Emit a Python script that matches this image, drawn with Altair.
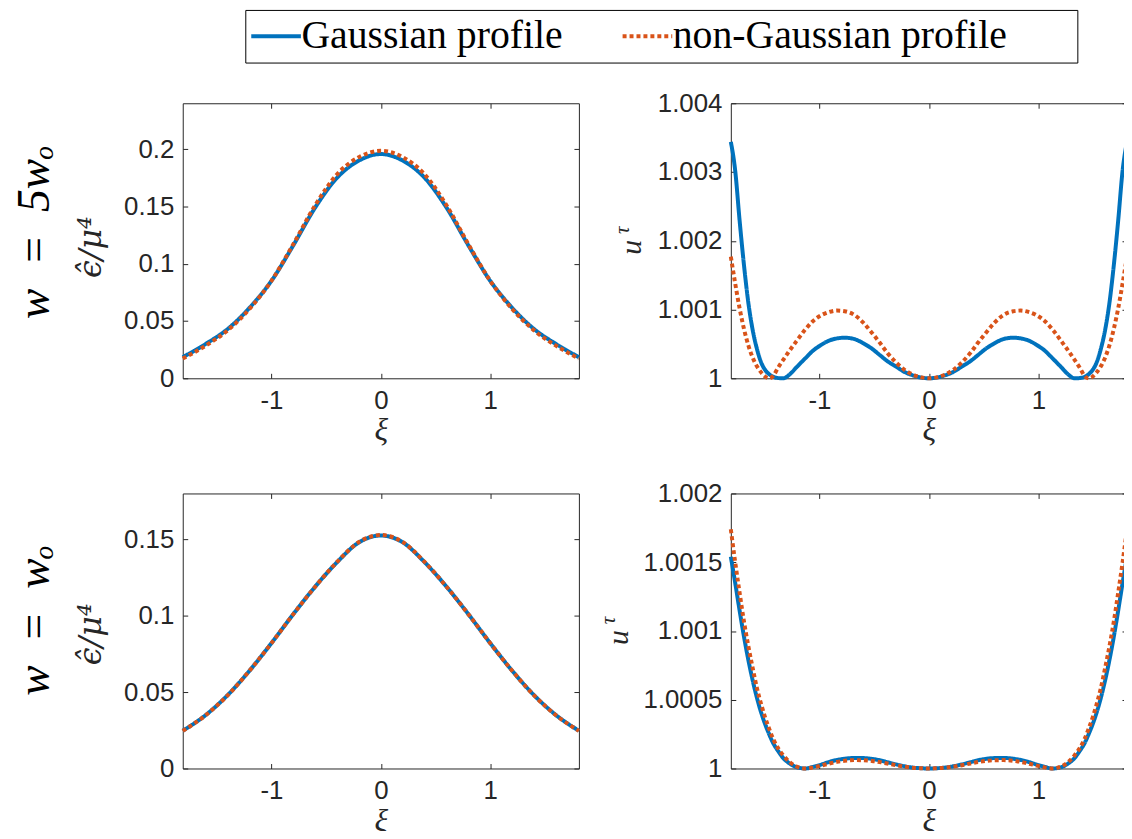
import altair as alt
import pandas as pd

SERIES = ["Gaussian profile", "non-Gaussian profile"]
BLUE, ORANGE = "#0072BD", "#D95319"
INK = "#262626"

# ---------------- data ----------------
xi_left = [-1.81, -1.6, -1.4, -1.2, -1.0, -0.8, -0.6, -0.4, -0.2, 0.0,
           0.2, 0.4, 0.6, 0.8, 1.0, 1.2, 1.4, 1.6, 1.81]

# energy density, w = 5 w_o
tl_gauss = [0.0184, 0.030, 0.043, 0.0615, 0.085, 0.116, 0.149, 0.175, 0.190, 0.1957,
            0.190, 0.175, 0.149, 0.116, 0.085, 0.0615, 0.043, 0.030, 0.0184]
tl_nongauss = [0.0172, 0.0285, 0.0418, 0.0605, 0.085, 0.117, 0.151, 0.178, 0.193, 0.1985,
               0.193, 0.178, 0.151, 0.117, 0.085, 0.0605, 0.0418, 0.0285, 0.0172]
# energy density, w = w_o
bl_gauss = [0.0247, 0.035, 0.048, 0.064, 0.082, 0.101, 0.119, 0.135, 0.148, 0.1525,
            0.148, 0.135, 0.119, 0.101, 0.082, 0.064, 0.048, 0.035, 0.0247]
bl_nongauss = [0.0246, 0.0349, 0.0479, 0.064, 0.082, 0.101, 0.119, 0.1352, 0.1482, 0.1528,
               0.1482, 0.1352, 0.119, 0.101, 0.082, 0.064, 0.0479, 0.0349, 0.0246]

xi_right = [-1.81, -1.77, -1.73, -1.69, -1.65, -1.61, -1.57, -1.53, -1.50, -1.46, -1.42,
            -1.38, -1.33, -1.27, -1.21, -1.13, -1.06, -0.98, -0.91, -0.84, -0.77, -0.68,
            -0.60, -0.52, -0.45, -0.38, -0.30, -0.22, -0.15, -0.07, 0.0,
            0.07, 0.15, 0.22, 0.30, 0.38, 0.45, 0.52, 0.60, 0.68, 0.77, 0.84, 0.91, 0.98,
            1.06, 1.13, 1.21, 1.27, 1.33, 1.38, 1.42, 1.46, 1.50, 1.53, 1.57, 1.61, 1.65,
            1.69, 1.73, 1.77, 1.81]

# u^tau, w = 5 w_o
tr_gauss = [1.00344, 1.00302, 1.00230, 1.00165, 1.00110, 1.00070, 1.00042, 1.00022, 1.00013,
            1.00006, 1.00002, 1.000004, 1.0, 1.00006, 1.00016, 1.00029, 1.00040, 1.00049,
            1.00055, 1.00058, 1.00059, 1.00057, 1.00051, 1.00043, 1.00034, 1.00025, 1.00017,
            1.00009, 1.000045, 1.00001, 1.0,
            1.00001, 1.000045, 1.00009, 1.00017, 1.00025, 1.00034, 1.00043, 1.00051, 1.00057,
            1.00059, 1.00058, 1.00055, 1.00049, 1.00040, 1.00029, 1.00016, 1.00006, 1.0,
            1.000004, 1.00002, 1.00006, 1.00013, 1.00022, 1.00042, 1.00070, 1.00110, 1.00165,
            1.00230, 1.00302, 1.00344]
tr_nongauss = [1.00177, 1.00138, 1.00102, 1.00072, 1.00048, 1.00030, 1.00017, 1.00008, 1.00003,
               1.0, 1.00004, 1.00015, 1.00027, 1.00041, 1.00054, 1.00071, 1.00083, 1.00092,
               1.000965, 1.000985, 1.000975, 1.00092, 1.00081, 1.00066, 1.00052, 1.00037,
               1.00023, 1.00012, 1.000055, 1.000013, 1.0,
               1.000013, 1.000055, 1.00012, 1.00023, 1.00037, 1.00052, 1.00066, 1.00081,
               1.00092, 1.000975, 1.000985, 1.000965, 1.00092, 1.00083, 1.00071, 1.00054,
               1.00041, 1.00027, 1.00015, 1.00004, 1.0, 1.00003, 1.00008, 1.00017, 1.00030,
               1.00048, 1.00072, 1.00102, 1.00138, 1.00177]
# u^tau, w = w_o
br_gauss = [1.00154, 1.00135, 1.00115, 1.00096, 1.00079, 1.00064, 1.00051, 1.00040, 1.00033,
            1.00025, 1.00018, 1.00013, 1.000075, 1.000035, 1.00001, 1.0, 1.000012, 1.00003,
            1.000048, 1.000062, 1.000071, 1.000077, 1.000076, 1.00007, 1.00006, 1.000046,
            1.00003, 1.000016, 1.000007, 1.000002, 1.0,
            1.000002, 1.000007, 1.000016, 1.00003, 1.000046, 1.00006, 1.00007, 1.000076,
            1.000077, 1.000071, 1.000062, 1.000048, 1.00003, 1.000012, 1.0, 1.00001,
            1.000035, 1.000075, 1.00013, 1.00018, 1.00025, 1.00033, 1.00040, 1.00051,
            1.00064, 1.00079, 1.00096, 1.00115, 1.00135, 1.00154]
br_nongauss = [1.00174, 1.00150, 1.00128, 1.00107, 1.00089, 1.00073, 1.00058, 1.00046, 1.00038,
               1.00029, 1.00021, 1.00015, 1.000095, 1.000045, 1.000015, 1.0, 1.000008,
               1.000022, 1.000036, 1.000048, 1.000056, 1.000061, 1.00006, 1.000055, 1.000047,
               1.000036, 1.000024, 1.000013, 1.000006, 1.000002, 1.0,
               1.000002, 1.000006, 1.000013, 1.000024, 1.000036, 1.000047, 1.000055, 1.00006,
               1.000061, 1.000056, 1.000048, 1.000036, 1.000022, 1.000008, 1.0, 1.000015,
               1.000045, 1.000095, 1.00015, 1.00021, 1.00029, 1.00038, 1.00046, 1.00058,
               1.00073, 1.00089, 1.00107, 1.00128, 1.00150, 1.00174]

x_ticks = [-1, 0, 1]
tl_yticks = [0, 0.05, 0.1, 0.15, 0.2]
bl_yticks = [0, 0.05, 0.1, 0.15]
tr_yticks = [1, 1.001, 1.002, 1.003, 1.004]
br_yticks = [1, 1.0005, 1.001, 1.0015, 1.002]

EPS = "ϵ̂/μ⁴"
ROW1 = "w\u2002=\u20025wₒ"
ROW2 = "w\u2002=\u2002wₒ"


def long_df(xi, g, ng):
    return pd.DataFrame({
        "xi": list(xi) + list(xi),
        "value": list(g) + list(ng),
        "series": [SERIES[0]] * len(xi) + [SERIES[1]] * len(xi),
    })


TICK_IN = {"expr": "-5"}
XDOM = [-1.81, 1.81]

legend = alt.Legend(
    title="................................", titleOrient="right", titleLimit=60,
    titleOpacity=0, titleFontSize=10, titlePadding=6,
    orient="none", legendX=63, legendY=-94, direction="horizontal", columns=2,
    symbolType="M-2.5,0L2.5,0", symbolSize=400, symbolStrokeWidth=4, symbolOffset=4.5,
    labelFont="Liberation Serif", labelFontSize=40, labelColor="black", labelLimit=1000,
    labelOffset=5.5, columnPadding=51, padding=6.5, strokeColor="black", fillColor="white",
)


def label(text, font, size, x, y, color=INK, align="center"):
    """Rotated (bottom-to-top) text label placed beside a panel."""
    return alt.Chart(pd.DataFrame({"t": [text]})).mark_text(
        font=font, fontSize=size, fontStyle="italic", angle=270, color=color,
        align=align, baseline="middle"
    ).encode(text="t:N", x=alt.value(x), y=alt.value(y))


def panel(df, ydom, yticks, labels):
    xs = alt.Scale(domain=XDOM, nice=False, zero=False)
    ys = alt.Scale(domain=ydom, nice=False, zero=False)
    lines = alt.Chart(df).mark_line(strokeWidth=4, interpolate="monotone", strokeCap="butt").encode(
        x=alt.X("xi:Q", scale=xs, axis=alt.Axis(
            orient="bottom", values=x_ticks, labelExpr="'' + datum.value", title="ξ",
            titleFont="Liberation Serif", titleFontStyle="italic", titleFontSize=32,
            titleFontWeight="normal", titleColor=INK, titlePadding=2,
            tickSize=TICK_IN, labelPadding=14)),
        y=alt.Y("value:Q", scale=ys, axis=alt.Axis(
            orient="left", values=yticks, labelExpr="'' + datum.value", title=None,
            tickSize=TICK_IN, labelPadding=14)),
        color=alt.Color("series:N", scale=alt.Scale(domain=SERIES, range=[BLUE, ORANGE]), legend=legend),
        strokeDash=alt.StrokeDash("series:N", scale=alt.Scale(domain=SERIES, range=[[1, 0], [4, 3]]),
                                  legend=legend),
    )
    frame = alt.Chart(df).mark_line(strokeOpacity=0).encode(
        x=alt.X("xi:Q", scale=xs, axis=alt.Axis(orient="top", values=x_ticks, labels=False,
                                                  title=None, tickSize=TICK_IN)),
        y=alt.Y("value:Q", scale=ys, axis=alt.Axis(orient="right", values=yticks, labels=False,
                                                     title=None, tickSize=TICK_IN)),
    )
    ch = alt.layer(lines, frame, *labels).resolve_axis(x="independent", y="independent")
    return ch.properties(width=399, height=277)


tl = panel(long_df(xi_left, tl_gauss, tl_nongauss), [0, 0.24], tl_yticks, [
    label(EPS, "DejaVu Serif", 32, -92, 176, align="left"),
    label(ROW1, "Liberation Serif", 46, -149, 130, "black"),
])
tr = panel(long_df(xi_right, tr_gauss, tr_nongauss), [1, 1.004], tr_yticks, [
    label("u", "Liberation Serif", 30, -99, 145),
    label("τ", "Liberation Serif", 21, -109, 128),
])
bl = panel(long_df(xi_left, bl_gauss, bl_nongauss), [0, 0.18], bl_yticks, [
    label(EPS, "DejaVu Serif", 32, -92, 173, align="left"),
    label(ROW2, "Liberation Serif", 46, -149, 128, "black"),
])
br = panel(long_df(xi_right, br_gauss, br_nongauss), [1, 1.002], br_yticks, [
    label("u", "Liberation Serif", 30, -113, 145),
    label("τ", "Liberation Serif", 21, -123, 128),
])

SVG_W, SVG_H = 1124, 823
PAD_L, PAD_T = 176, 93
chart = alt.concat(
    tl, tr, bl, br, columns=2, spacing={"row": 116, "column": 153}, bounds="flush"
).properties(
    autosize=alt.AutoSizeParams(type="none"),
    padding={"left": PAD_L, "top": PAD_T, "right": SVG_W - PAD_L, "bottom": SVG_H - PAD_T},
    background="white",
).configure_view(stroke=None).configure_axis(
    grid=False, domainColor=INK, domainWidth=1, tickColor=INK, tickWidth=1,
    labelFont="Liberation Sans", labelFontSize=26, labelColor=INK, labelOverlap=False,
    labelFlush=False,
)

chart.save("out.html", embed_options={"renderer": "svg", "actions": False})
